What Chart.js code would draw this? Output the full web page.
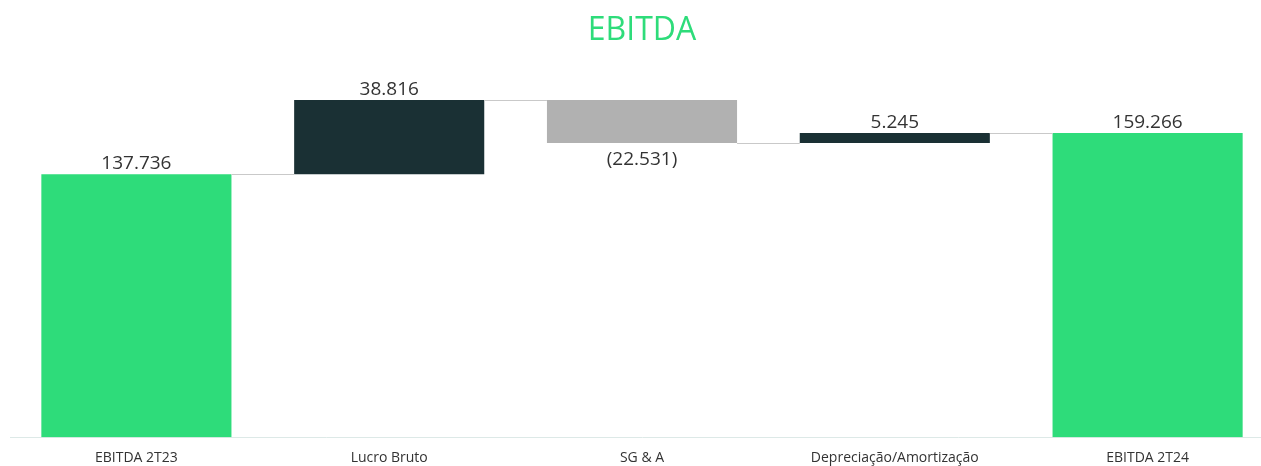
<!DOCTYPE html>
<html>
<head>
<meta charset="utf-8">
<script src="https://cdn.jsdelivr.net/npm/chart.js@4.4.1/dist/chart.umd.min.js"></script>
<style>
  html, body { margin: 0; padding: 0; background: #fff; overflow: hidden; }
  #wrap { position: relative; width: 1280px; height: 478px; }
</style>
</head>
<body>
<div id="wrap"><canvas id="ebitda-chart"></canvas></div>
<script>
// dados do gráfico
const categories = ['EBITDA 2T23', 'Lucro Bruto', 'SG & A', 'Depreciação/Amortização', 'EBITDA 2T24'];
const variations = [137.736, 38.816, -22.531, 5.245, 159.266];
const kinds = ['total', 'delta', 'delta', 'delta', 'total'];
const valueLabels = ['137.736', '38.816', '(22.531)', '5.245', '159.266'];

const GREEN = '#2edc7a';
const DARK = '#1a3034';
const GRAY = '#b1b1b1';

// monta as faixas flutuantes (cascata)
let running = 0;
const ranges = [];
const colors = [];
variations.forEach((v, i) => {
    if (kinds[i] === 'total') {
        ranges.push([0, v]);
        running = v;
        colors.push(GREEN);
    } else {
        ranges.push([running, running + v]);
        running += v;
        colors.push(v >= 0 ? DARK : GRAY);
    }
});

// linhas de ligação + rótulos de valor
const waterfallPlugin = {
    id: 'waterfall',
    afterDatasetsDraw(chart) {
        const ctx = chart.ctx;
        const meta = chart.getDatasetMeta(0);
        const y = chart.scales.y;
        ctx.save();
        ctx.strokeStyle = '#c9c9c9';
        ctx.lineWidth = 1;
        for (let i = 0; i < meta.data.length - 1; i++) {
            const a = meta.data[i], b = meta.data[i + 1];
            const level = y.getPixelForValue(ranges[i][1]);
            const py = Math.round(level) + 0.5;
            ctx.beginPath();
            ctx.moveTo(a.x + a.width / 2, py);
            ctx.lineTo(b.x - b.width / 2, py);
            ctx.stroke();
        }
        ctx.fillStyle = '#333333';
        ctx.font = '19px "Open Sans", "Noto Sans", sans-serif';
        ctx.textAlign = 'center';
        ctx.textBaseline = 'alphabetic';
        meta.data.forEach((bar, i) => {
            const hi = y.getPixelForValue(Math.max(ranges[i][0], ranges[i][1]));
            const lo = y.getPixelForValue(Math.min(ranges[i][0], ranges[i][1]));
            if (variations[i] >= 0) {
                ctx.fillText(valueLabels[i], bar.x, hi - 5);
            } else {
                ctx.fillText(valueLabels[i], bar.x, lo + 22);
            }
        });
        ctx.restore();
    }
};

const ctx = document.getElementById('ebitda-chart').getContext('2d');
new Chart(ctx, {
    type: 'bar',
    data: {
        labels: categories,
        datasets: [{
            data: ranges,
            backgroundColor: colors,
            borderWidth: 0,
            borderSkipped: false,
            categoryPercentage: 1,
            barPercentage: 0.752
        }]
    },
    options: {
        responsive: true,
        maintainAspectRatio: false,
        animation: false,
        layout: { padding: { left: 10, right: 6, top: 0, bottom: 0 } },
        scales: {
            x: {
                grid: { display: false, drawTicks: false },
                border: { display: true, color: '#dde9e7', width: 1 },
                ticks: {
                    color: '#333333',
                    padding: 12,
                    maxRotation: 0,
                    autoSkip: false,
                    font: { family: '"Open Sans", "Noto Sans", sans-serif', size: 14 }
                }
            },
            y: {
                display: false,
                min: 0,
                max: 190
            }
        },
        plugins: {
            legend: { display: false },
            tooltip: { enabled: false },
            title: {
                display: true,
                text: 'EBITDA',
                color: GREEN,
                font: { family: '"Open Sans", "Noto Sans", sans-serif', size: 32, weight: 'normal' },
                padding: { top: 12, bottom: 24 }
            }
        }
    },
    plugins: [waterfallPlugin]
});
</script>
</body>
</html>
